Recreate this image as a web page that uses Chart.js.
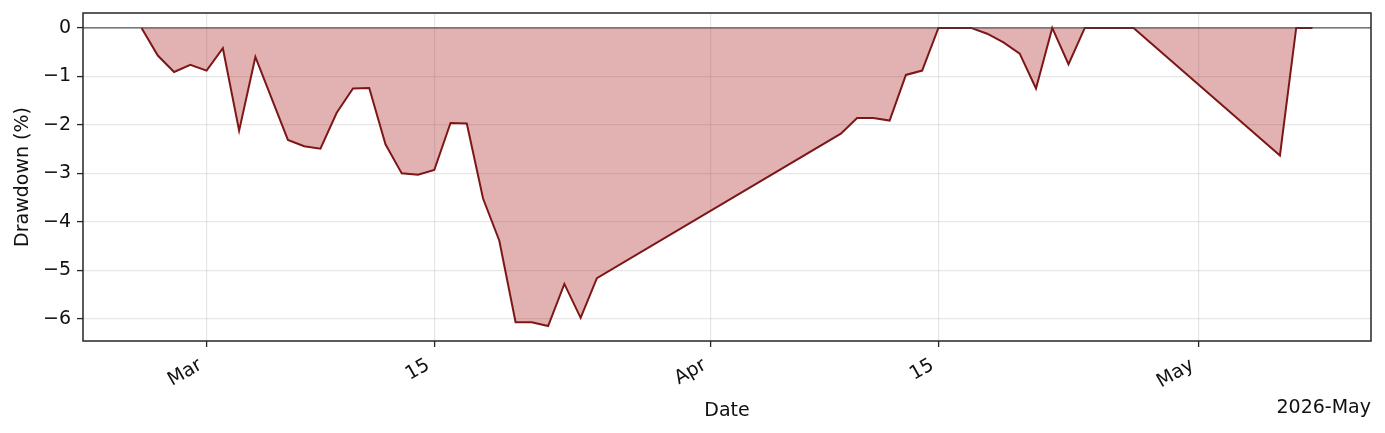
<!DOCTYPE html>
<html>
<head>
<meta charset="utf-8">
<script src="https://cdn.jsdelivr.net/npm/chart.js@4.4.1/dist/chart.umd.min.js"></script>
<style>
  html, body { margin: 0; padding: 0; background: #fff; }
  #wrap { width: 1385px; height: 433px; }
</style>
</head>
<body>
<div id="wrap"><canvas id="ddChart" width="1385" height="433"></canvas></div>
<script>
// drawdown series (dates 2026)
var dates = ['02-25', '02-26', '02-27', '02-28', '03-01', '03-02', '03-03', '03-04',
  '03-06', '03-07', '03-08', '03-09', '03-10', '03-11', '03-12', '03-13', '03-14',
  '03-15', '03-16', '03-17', '03-18', '03-19', '03-20', '03-21', '03-22', '03-23',
  '03-24', '03-25', '04-09', '04-10', '04-11', '04-12', '04-13', '04-14', '04-15',
  '04-16', '04-17', '04-18', '04-19', '04-20', '04-21', '04-22', '04-23', '04-24',
  '04-25', '04-26', '04-27', '05-06', '05-07', '05-08'];
var drawdown = [0, -0.57, -0.91, -0.76, -0.88, -0.42, -2.12, -0.60,
  -2.31, -2.44, -2.49, -1.75, -1.25, -1.24, -2.40, -3.00, -3.03,
  -2.93, -1.96, -1.97, -3.52, -4.39, -6.07, -6.07, -6.15, -5.28,
  -5.98, -5.16, -2.18, -1.86, -1.86, -1.91, -0.97, -0.88, 0,
  0, 0, -0.12, -0.30, -0.53, -1.25, 0, -0.75, 0,
  0, 0, 0, -2.63, 0, 0];
var xTickDates = ['03-01', '03-15', '04-01', '04-15', '05-01'];
var xTickLabels = ['Mar', '15', 'Apr', '15', 'May'];
var yTicks = [0, -1, -2, -3, -4, -5, -6];
var offsetLabel = '2026-May';

const FONT = 'DejaVu Sans';
const FSIZE = 19;
const DAY = 86400000;
const base = Date.UTC(2026, 2, 1);

function dayNum(s) {
  var p = s.split('-');
  return Math.round((Date.UTC(2026, +p[0] - 1, +p[1]) - base) / DAY);
}

var points = [];
for (var i = 0; i < dates.length; i++) {
  points.push({ x: dayNum(dates[i]), y: drawdown[i] });
}
var tickMap = new Map();
for (var i = 0; i < xTickDates.length; i++) {
  tickMap.set(dayNum(xTickDates[i]), xTickLabels[i]);
}

// matplotlib style 5% margins
var xFirst = points[0].x, xLast = points[points.length - 1].x;
var xPad = (xLast - xFirst) * 0.05;
var yMinData = Math.min(...drawdown), yMaxData = Math.max(...drawdown);
var yPad = (yMaxData - yMinData) * 0.05;

// frame, zero line and offset text
const framePlugin = {
  id: 'frame',
  afterDatasetsDraw(chart) {
    const ctx = chart.ctx;
    const a = chart.chartArea;
    const y0 = chart.scales.y.getPixelForValue(0);
    ctx.save();
    ctx.strokeStyle = 'rgba(60,60,60,0.85)';
    ctx.lineWidth = 1.3;
    ctx.beginPath();
    ctx.moveTo(a.left, y0);
    ctx.lineTo(a.right, y0);
    ctx.stroke();
    ctx.strokeStyle = '#262626';
    ctx.lineWidth = 1.5;
    ctx.strokeRect(a.left, a.top, a.right - a.left, a.bottom - a.top);
    ctx.fillStyle = '#111';
    ctx.font = FSIZE + 'px "' + FONT + '"';
    ctx.textAlign = 'right';
    ctx.textBaseline = 'middle';
    ctx.fillText(offsetLabel, a.right, 408);
    ctx.restore();
  }
};

function noPad(scale) {
  scale.paddingTop = 0;
  scale.paddingBottom = 0;
  scale.paddingLeft = 0;
  scale.paddingRight = 0;
}

var ctx = document.getElementById('ddChart').getContext('2d');
var myChart = new Chart(ctx, {
  type: 'line',
  data: {
    datasets: [{
      label: 'Drawdown',
      data: points,
      borderColor: '#7d1717',
      borderWidth: 2,
      backgroundColor: 'rgba(172,34,34,0.35)',
      fill: 'origin',
      pointRadius: 0,
      tension: 0,
    }]
  },
  options: {
    responsive: false,
    animation: false,
    devicePixelRatio: 1,
    layout: { padding: { top: 13, right: 14, left: 0, bottom: 0 } },
    plugins: {
      legend: { display: false },
      tooltip: { enabled: false },
    },
    scales: {
      x: {
        type: 'linear',
        min: xFirst - xPad,
        max: xLast + xPad,
        afterBuildTicks: function (scale) {
          scale.ticks = [...tickMap.keys()].map(v => ({ value: v }));
        },
        afterFit: function (scale) { scale.height = 92; noPad(scale); },
        grid: {
          color: 'rgba(176,176,176,0.3)',
          lineWidth: 1.2,
          tickColor: '#262626',
          tickLength: 6,
          tickWidth: 1.3,
        },
        border: { display: false },
        ticks: {
          autoSkip: false,
          minRotation: 30,
          maxRotation: 30,
          padding: 7,
          labelOffset: -6,
          color: '#111',
          font: { family: FONT, size: FSIZE },
          callback: function (v) { return tickMap.get(v) || ''; }
        },
        title: {
          display: true,
          text: 'Date',
          color: '#111',
          font: { family: FONT, size: FSIZE },
          padding: { top: 0, bottom: 11 },
        }
      },
      y: {
        type: 'linear',
        min: yMinData - yPad,
        max: yMaxData + yPad,
        afterBuildTicks: function (scale) {
          scale.ticks = yTicks.map(v => ({ value: v }));
        },
        afterFit: function (scale) { scale.width = 83; noPad(scale); },
        grid: {
          color: 'rgba(176,176,176,0.3)',
          lineWidth: 1.2,
          tickColor: '#262626',
          tickLength: 6,
          tickWidth: 1.3,
        },
        border: { display: false },
        ticks: {
          padding: 6,
          color: '#111',
          font: { family: FONT, size: FSIZE },
          callback: function (v) { return v < 0 ? '\u2212' + Math.abs(v) : String(v); }
        },
        title: {
          display: true,
          text: 'Drawdown (%)',
          color: '#111',
          font: { family: FONT, size: FSIZE },
          padding: { top: 12, bottom: 0 },
        }
      }
    }
  },
  plugins: [framePlugin]
});
</script>
</body>
</html>
